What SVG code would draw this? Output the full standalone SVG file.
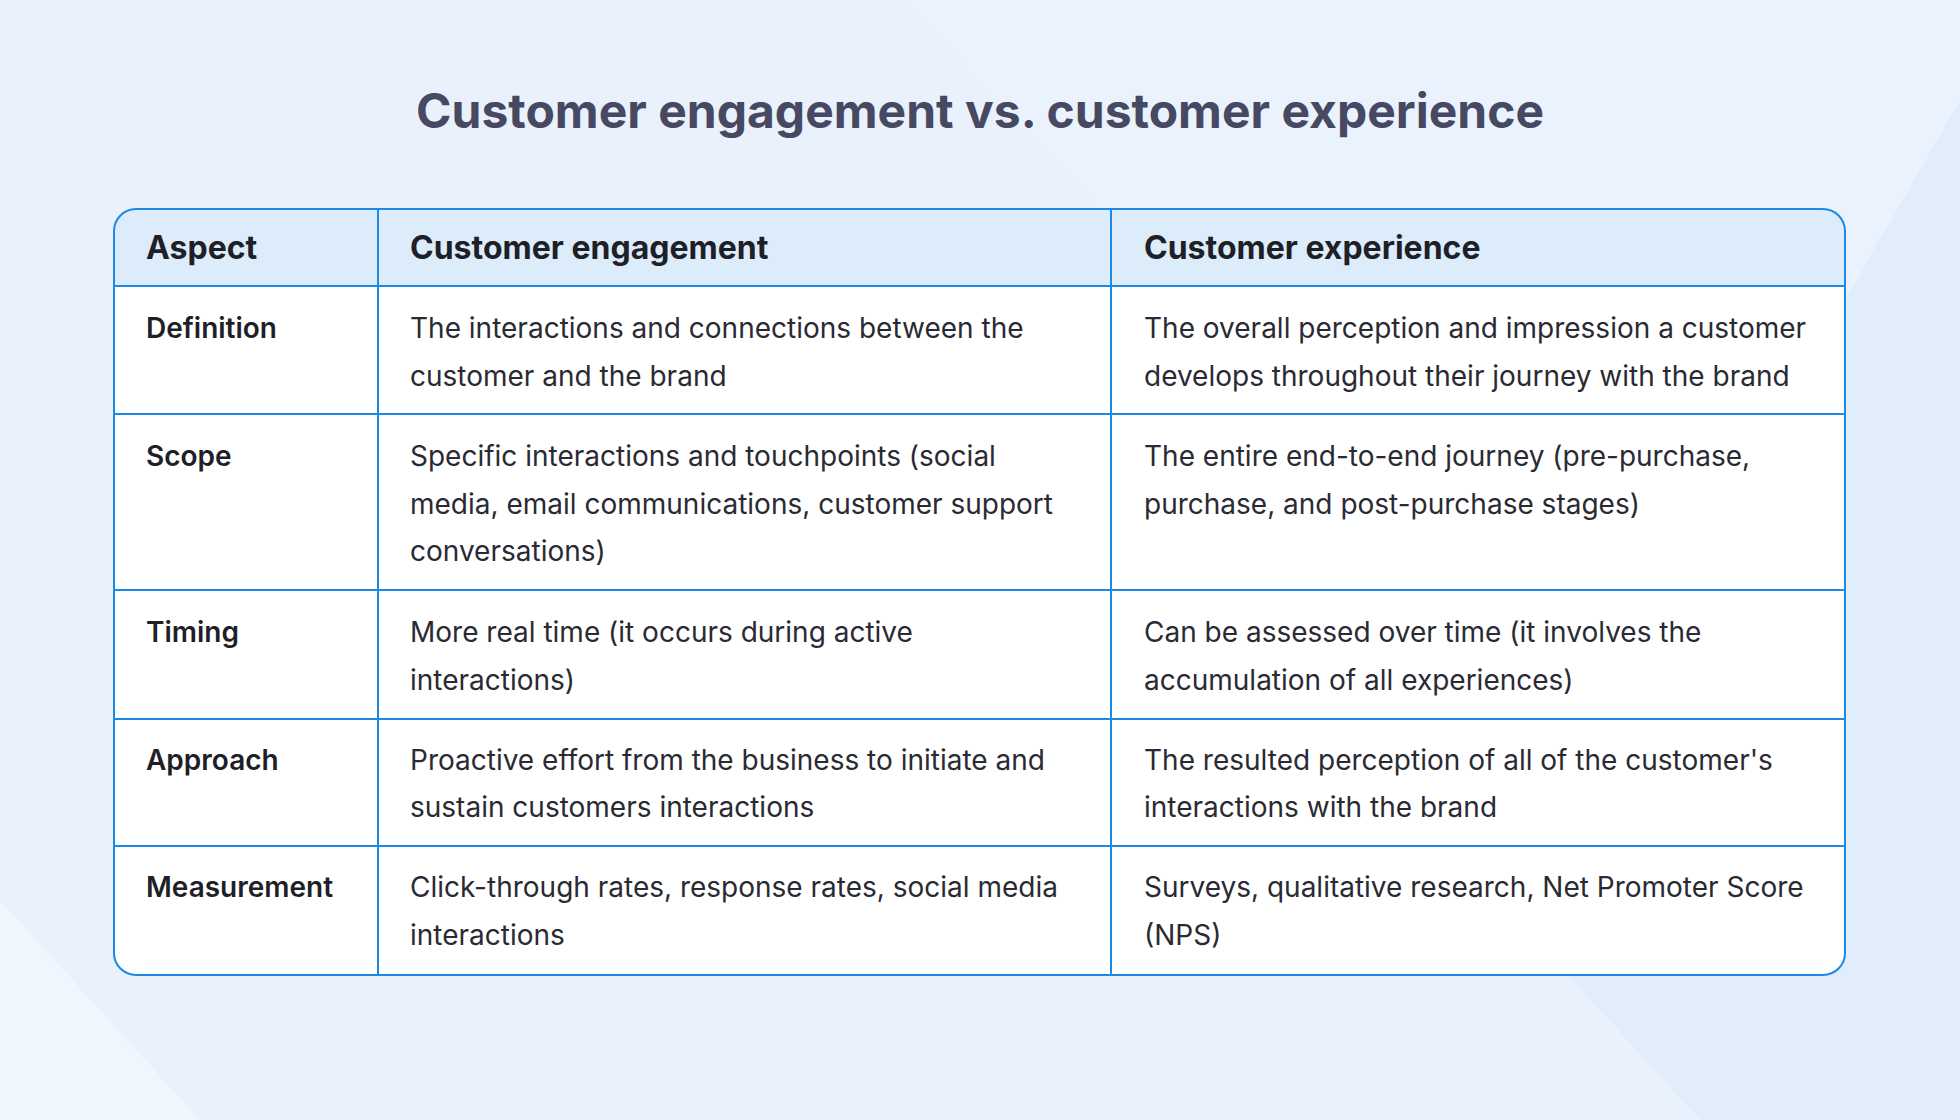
<svg xmlns="http://www.w3.org/2000/svg" width="1960" height="1120" viewBox="0 0 1960 1120">
<style>
.t{font-family:Inter,"Liberation Sans",sans-serif;font-size:28px;fill:#2a2a33}
.b{font-family:Inter,"Liberation Sans",sans-serif;font-size:28px;font-weight:600;fill:#1f1f28}
.h{font-family:Inter,"Liberation Sans",sans-serif;font-size:32px;font-weight:700;fill:#1f1f28}
.ln{stroke:#1e88e5;stroke-width:2;fill:none}
</style>
<rect width="1960" height="1120" fill="#eaf3fd"/>
<polygon points="0,0 900,0 1960,1120 0,1120" fill="#e6f0fc" opacity="0.6"/>
<polygon points="1960,100 1960,1120 1700,1120 1500,900" fill="#e1edfb"/>
<polygon points="0,900 200,1120 0,1120" fill="#f0f6fe"/>
<text x="980" y="128" text-anchor="middle" font-family="Inter,'Liberation Sans',sans-serif" font-size="48" font-weight="700" fill="#474862">Customer engagement vs. customer experience</text>
<g id="table">
<rect x="114" y="209" width="1731" height="766" rx="22" fill="#fff"/>
<path d="M114,286 V231 a22,22 0 0 1 22,-22 H1823 a22,22 0 0 1 22,22 V286 Z" fill="#dcecfb"/>
<rect x="114" y="209" width="1731" height="766" rx="22" class="ln"/>
<path class="ln" d="M114,286H1845M114,414H1845M114,590H1845M114,719H1845M114,846H1845M378,209V975M1111,209V975"/>
</g>
<g id="header">
<text class="h" x="146" y="259">Aspect</text>
<text class="h" x="410" y="259">Customer engagement</text>
<text class="h" x="1144" y="259">Customer experience</text>
</g>
<g id="definition">
<text class="b" x="146" y="338">Definition</text>
<text class="t" x="410" y="338">The interactions and connections between the</text>
<text class="t" x="410" y="386">customer and the brand</text>
<text class="t" x="1144" y="338">The overall perception and impression a customer</text>
<text class="t" x="1144" y="386">develops throughout their journey with the brand</text>
</g>
<g id="scope">
<text class="b" x="146" y="466">Scope</text>
<text class="t" x="410" y="466">Specific interactions and touchpoints (social</text>
<text class="t" x="410" y="514">media, email communications, customer support</text>
<text class="t" x="410" y="561">conversations)</text>
<text class="t" x="1144" y="466">The entire end-to-end journey (pre-purchase,</text>
<text class="t" x="1144" y="514">purchase, and post-purchase stages)</text>
</g>
<g id="timing">
<text class="b" x="146" y="642">Timing</text>
<text class="t" x="410" y="642">More real time (it occurs during active</text>
<text class="t" x="410" y="690">interactions)</text>
<text class="t" x="1144" y="642">Can be assessed over time (it involves the</text>
<text class="t" x="1144" y="690">accumulation of all experiences)</text>
</g>
<g id="approach">
<text class="b" x="146" y="770">Approach</text>
<text class="t" x="410" y="770">Proactive effort from the business to initiate and</text>
<text class="t" x="410" y="817">sustain customers interactions</text>
<text class="t" x="1144" y="770">The resulted perception of all of the customer's</text>
<text class="t" x="1144" y="817">interactions with the brand</text>
</g>
<g id="measurement">
<text class="b" x="146" y="897">Measurement</text>
<text class="t" x="410" y="897">Click-through rates, response rates, social media</text>
<text class="t" x="410" y="945">interactions</text>
<text class="t" x="1144" y="897">Surveys, qualitative research, Net Promoter Score</text>
<text class="t" x="1144" y="945">(NPS)</text>
</g>
</svg>
